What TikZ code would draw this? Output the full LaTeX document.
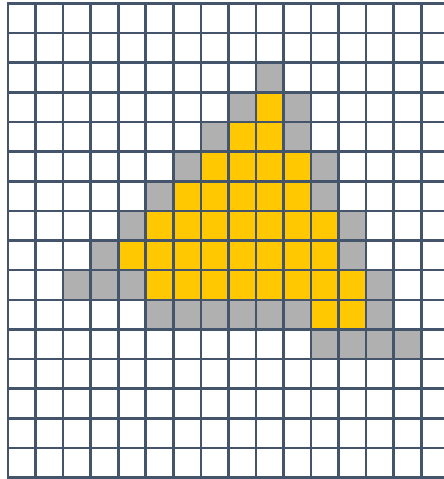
\documentclass[tikz,border=0pt]{standalone}
\definecolor{gridcol}{HTML}{44546A}
\definecolor{goldcell}{HTML}{FFC800}
\definecolor{greycell}{HTML}{B0B0B0}
\tikzset{
  gridline/.style={draw=gridcol, line width=2.6pt, line cap=rect},
  goldfill/.style={fill=goldcell},
  greyfill/.style={fill=greycell}
}
\begin{document}
\begin{tikzpicture}[x=1pt,y=-1pt]
\useasboundingbox (0,0) rectangle (444,479);
\fill[white] (0,0) rectangle (444,479);
% grey cells
\foreach \c/\r in {9/2, 8/3,10/3, 7/4,10/4, 6/5,11/5, 5/6,11/6, 4/7,12/7, 3/8,12/8,
  2/9,3/9,4/9,13/9, 5/10,6/10,7/10,8/10,9/10,10/10,13/10, 11/11,12/11,13/11,14/11}
  \fill[greyfill] ({8+\c*27.55},{3.3+\r*29.65}) rectangle ++(27.55,29.65);
% yellow cells
\foreach \c/\r in {9/3, 8/4,9/4, 7/5,8/5,9/5,10/5, 6/6,7/6,8/6,9/6,10/6,
  5/7,6/7,7/7,8/7,9/7,10/7,11/7, 4/8,5/8,6/8,7/8,8/8,9/8,10/8,11/8,
  5/9,6/9,7/9,8/9,9/9,10/9,11/9,12/9, 11/10,12/10}
  \fill[goldfill] ({8+\c*27.55},{3.3+\r*29.65}) rectangle ++(27.55,29.65);
% grid lines
\foreach \k in {0,...,15}
  \draw[gridline] ({8+\k*27.55},3.3) -- ({8+\k*27.55},477.7);
\foreach \k in {0,...,16}
  \draw[gridline] (8,{3.3+\k*29.65}) -- (444,{3.3+\k*29.65});
\end{tikzpicture}
\end{document}
